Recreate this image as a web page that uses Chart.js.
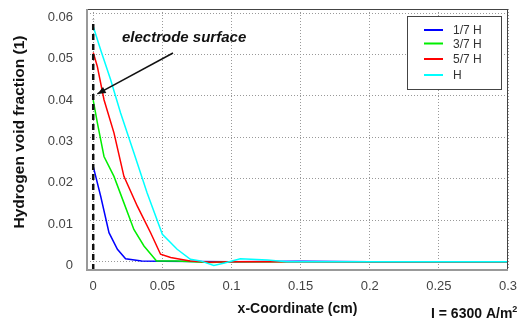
<!DOCTYPE html>
<html><head><meta charset="utf-8">
<script src="https://cdn.jsdelivr.net/npm/chart.js@4/dist/chart.umd.min.js"></script>
<style>html,body{margin:0;padding:0;background:#fff}#wrap{width:527px;height:322px}</style>
</head><body><div id="wrap"><canvas id="c" width="527" height="322"></canvas></div>
<script>
const seriesLabels = ['1/7 H', '3/7 H', '5/7 H', 'H'];
const blueX = [0, 0.0054, 0.0114, 0.0175, 0.0234, 0.035, 0.05, 0.1, 0.15, 0.2, 0.3];
const blueY = [0.023, 0.0158, 0.0070, 0.003, 0.0007, 0.0002, 0.0001, 0, 0.0001, 0, 0];
const greenX = [0, 0.003, 0.0078, 0.015, 0.0222, 0.0294, 0.0367, 0.0458, 0.06, 0.085, 0.1, 0.15, 0.3];
const greenY = [0.039, 0.0335, 0.0254, 0.0206, 0.0142, 0.0078, 0.0038, 0.0002, 0.0002, -0.0002, 0, 0, 0];
const redX = [0, 0.003, 0.0078, 0.015, 0.0222, 0.0319, 0.0415, 0.0487, 0.056, 0.07, 0.085, 0.1, 0.2, 0.3];
const redY = [0.0505, 0.0471, 0.0391, 0.0311, 0.0206, 0.0134, 0.0070, 0.0018, 0.001, 0.0002, -0.0001, 0, 0, 0];
const cyanX = [0, 0.0054, 0.0126, 0.0198, 0.0294, 0.039, 0.05, 0.0607, 0.0703, 0.0776, 0.0872, 0.095, 0.1064, 0.126, 0.14, 0.3];
const cyanY = [0.0568, 0.0511, 0.0439, 0.0359, 0.0263, 0.0166, 0.0066, 0.003, 0.0006, 0.0002, -0.0009, -0.0003, 0.0007, 0.0004, 0, 0];
const electrodeX = [0, 0];
const electrodeY = [-0.002, 0.0584];
const xTicks = [0, 0.05, 0.1, 0.15, 0.2, 0.25, 0.3];
const yTicks = [0, 0.01, 0.02, 0.03, 0.04, 0.05, 0.06];
const colors = ['#0000ff', '#00ee00', '#ff0000', '#00ffff'];
const yTitle = 'Hydrogen void fraction (1)';

function pts(xs, ys) { return xs.map((x, i) => ({x: x, y: ys[i]})); }
const seriesData = [pts(blueX, blueY), pts(greenX, greenY), pts(redX, redY), pts(cyanX, cyanY)];

const datasets = seriesData.map((d, i) => ({
  label: seriesLabels[i], data: d, borderColor: colors[i], borderWidth: 1.5,
  pointRadius: 0, showLine: true, tension: 0, order: 4 - i
}));
datasets.push({label: 'electrode', data: pts(electrodeX, electrodeY), borderColor: '#111', borderWidth: 2.5,
  borderDash: [6, 4], pointRadius: 0, showLine: true, order: 0});

const FONT = '"Liberation Sans", Arial, sans-serif';
const deco = {
  id: 'deco',
  afterDraw(chart) {
    const ctx = chart.ctx, a = chart.chartArea, xs = chart.scales.x, ys = chart.scales.y;
    ctx.save();
    ctx.strokeStyle = '#444'; ctx.lineWidth = 1;
    ctx.strokeRect(a.left + 0.5, a.top + 0.5, a.right - a.left - 1, a.bottom - a.top - 1);
    ctx.strokeStyle = '#999'; ctx.lineWidth = 2;
    ctx.beginPath(); ctx.moveTo(a.left, a.top); ctx.lineTo(a.left, a.bottom); ctx.lineTo(a.right, a.bottom); ctx.stroke();
    ctx.save();
    ctx.translate(20, 132); ctx.rotate(-Math.PI / 2);
    ctx.fillStyle = '#111'; ctx.font = 'bold 15.5px ' + FONT;
    ctx.textAlign = 'center'; ctx.textBaseline = 'middle';
    ctx.fillText(yTitle, 0, 0);
    ctx.restore();
    ctx.fillStyle = '#111';
    ctx.font = 'italic bold 15px ' + FONT;
    ctx.textBaseline = 'alphabetic'; ctx.textAlign = 'left';
    ctx.fillText('electrode surface', 122, 42);
    const tx = xs.getPixelForValue(0.003), ty = ys.getPixelForValue(0.0405);
    const sx = 173, sy = 53;
    ctx.strokeStyle = '#111'; ctx.lineWidth = 1.5;
    ctx.beginPath(); ctx.moveTo(sx, sy); ctx.lineTo(tx, ty); ctx.stroke();
    const ang = Math.atan2(ty - sy, tx - sx), L = 9, W = 0.4;
    ctx.beginPath(); ctx.moveTo(tx, ty);
    ctx.lineTo(tx - L * Math.cos(ang - W), ty - L * Math.sin(ang - W));
    ctx.lineTo(tx - L * Math.cos(ang + W), ty - L * Math.sin(ang + W));
    ctx.closePath(); ctx.fill();
    const lx = 407, ly = 16, lw = 94, lh = 73;
    ctx.fillStyle = '#fff'; ctx.fillRect(lx, ly, lw, lh);
    ctx.strokeStyle = '#444'; ctx.lineWidth = 1; ctx.strokeRect(lx + 0.5, ly + 0.5, lw, lh);
    const rows = [30, 43.5, 59, 75];
    ctx.font = '12px ' + FONT; ctx.textBaseline = 'middle';
    seriesLabels.forEach((lab, i) => {
      ctx.strokeStyle = colors[i]; ctx.lineWidth = 2;
      ctx.beginPath(); ctx.moveTo(424, rows[i]); ctx.lineTo(443, rows[i]); ctx.stroke();
      ctx.fillStyle = '#333'; ctx.fillText(lab, 453, rows[i] + 1);
    });
    ctx.fillStyle = '#111'; ctx.textBaseline = 'alphabetic';
    ctx.font = 'bold 14px ' + FONT;
    const t = 'I = 6300 A/m';
    ctx.fillText(t, 431, 318);
    const w = ctx.measureText(t).width;
    ctx.font = 'bold 9px ' + FONT;
    ctx.fillText('2', 431 + w, 312);
    ctx.restore();
  }
};

new Chart(document.getElementById('c'), {
  type: 'scatter',
  data: {datasets: datasets},
  options: {
    responsive: false, animation: false, devicePixelRatio: 1,
    layout: {padding: {left: 0, top: 9, right: 19, bottom: 0}},
    plugins: {legend: {display: false}, tooltip: {enabled: false}},
    scales: {
      x: {
        type: 'linear', min: -0.0045, max: 0.3,
        afterBuildTicks: s => { s.ticks = xTicks.map(v => ({value: v})); },
        afterFit: s => { s.height = 52; s.paddingLeft = 0; s.paddingRight = 0; },
        grid: {color: '#999', lineWidth: 1, drawTicks: false},
        border: {display: false, dash: [1, 2]},
        ticks: {padding: 9, color: '#444', font: {family: FONT, size: 13}, callback: v => String(v)},
        title: {display: true, text: 'x-Coordinate (cm)', color: '#111', padding: {top: 5},
          font: {family: FONT, size: 14, weight: 'bold'}}
      },
      y: {
        type: 'linear', min: -0.002, max: 0.061,
        afterBuildTicks: s => { s.ticks = yTicks.map(v => ({value: v})); },
        afterFit: s => { s.width = 87; s.paddingTop = 0; s.paddingBottom = 0; },
        grid: {color: '#999', lineWidth: 1, drawTicks: false},
        border: {display: false, dash: [1, 2]},
        ticks: {padding: 14, labelOffset: 4, color: '#444', font: {family: FONT, size: 13}, callback: v => String(v)}
      }
    }
  },
  plugins: [deco]
});
</script></body></html>
